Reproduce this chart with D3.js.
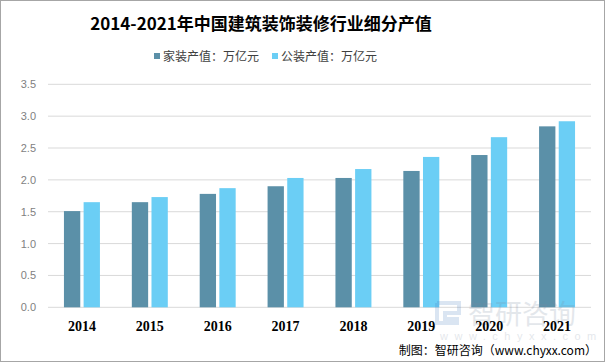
<!DOCTYPE html>
<html>
<head>
<meta charset="utf-8">
<script src="https://cdn.jsdelivr.net/npm/d3@7"></script>
<style>
  body { margin: 0; background: #fff; }
  svg { display: block; }
</style>
</head>
<body>
<svg class="chart"></svg>
<script>
const years = ["2014", "2015", "2016", "2017", "2018", "2019", "2020", "2021"];
const homeValues = [1.51, 1.65, 1.78, 1.90, 2.03, 2.14, 2.39, 2.84];
const publicValues = [1.65, 1.73, 1.87, 2.03, 2.17, 2.36, 2.67, 2.92];
const seriesNames = ["家装产值：万亿元", "公装产值：万亿元"];
const yTicks = [0, 0.5, 1, 1.5, 2, 2.5, 3, 3.5];

const width = 605, height = 362,
      margin = { top: 84, left: 48, right: 14, bottom: 55 };
const colors = ["#5B90A8", "#6BCEF5"];
const cjk = "'Noto Sans CJK SC', 'Noto Sans', sans-serif";

const svg = d3.select(".chart").attr("width", width).attr("height", height);

// outer frame
svg.append("rect")
    .attr("x", 0.5).attr("y", 0.5)
    .attr("width", width - 1).attr("height", height - 1)
    .attr("fill", "#fff").attr("stroke", "#a6a6a6");

const x = d3.scaleBand()
    .domain(years)
    .range([margin.left, width - margin.right]);

const xInner = d3.scaleBand()
    .domain([0, 1])
    .range([x.bandwidth() * 0.235, x.bandwidth() * 0.765])
    .paddingInner(0.17);

const y = d3.scaleLinear()
    .domain([0, 3.5])
    .range([height - margin.bottom + 0.3, margin.top + 0.3]);

// gridlines
svg.append("g")
    .selectAll("line")
    .data(yTicks)
    .join("line")
    .attr("x1", margin.left)
    .attr("x2", width - margin.right)
    .attr("y1", d => y(d))
    .attr("y2", d => y(d))
    .attr("stroke", "#d9d9d9")
    .attr("stroke-width", 1);

// y labels
svg.append("g")
    .selectAll("text")
    .data(yTicks)
    .join("text")
    .attr("x", 36)
    .attr("y", d => y(d) + 4)
    .attr("text-anchor", "end")
    .attr("font-size", "11px")
    .attr("font-family", "'Liberation Sans', Arial, sans-serif")
    .attr("fill", "#7f7f7f")
    .text(d => d.toFixed(1));

// bars
const series = [homeValues, publicValues];
series.forEach((vals, s) => {
    svg.append("g")
        .selectAll("rect")
        .data(vals)
        .join("rect")
        .attr("x", (d, i) => x(years[i]) + xInner(s))
        .attr("width", xInner.bandwidth())
        .attr("y", d => y(d))
        .attr("height", d => y(0) - y(d))
        .attr("fill", colors[s]);
});

// watermark (faint, sits behind the year labels like in the source image)
const wm = svg.append("g").attr("opacity", 0.2);
wm.append("path")
    .attr("d", "M437,303 h22 v10 h-14 v6 h14 M437,303 v20 h22")
    .attr("fill", "none").attr("stroke", "#4a7fc0").attr("stroke-width", 4);
wm.append("text")
    .attr("x", 468).attr("y", 324)
    .attr("font-size", "27px")
    .attr("font-family", cjk)
    .attr("fill", "#7a8aa0")
    .text("智研咨询");
wm.append("text")
    .attr("x", 440).attr("y", 340)
    .attr("font-size", "11px")
    .attr("letter-spacing", "6.5px")
    .attr("font-family", "'Liberation Sans', Arial, sans-serif")
    .attr("fill", "#7a8aa0")
    .text("www.chyxx.com");

// x labels
svg.append("g")
    .selectAll("text")
    .data(years)
    .join("text")
    .attr("x", d => x(d) + x.bandwidth() / 2)
    .attr("y", 331)
    .attr("text-anchor", "middle")
    .attr("font-size", "14px")
    .attr("font-weight", "bold")
    .attr("font-family", "'Liberation Serif', 'Times New Roman', serif")
    .attr("fill", "#000")
    .text(d => d);

// title
svg.append("text")
    .attr("x", 261)
    .attr("y", 30)
    .attr("text-anchor", "middle")
    .attr("font-size", "17px")
    .attr("font-weight", "bold")
    .attr("font-family", cjk)
    .attr("fill", "#000")
    .text("2014-2021年中国建筑装饰装修行业细分产值");

// legend
const legendX = [154, 272];
seriesNames.forEach((name, i) => {
    svg.append("rect")
        .attr("x", legendX[i]).attr("y", 53)
        .attr("width", 6).attr("height", 6)
        .attr("fill", colors[i]);
    svg.append("text")
        .attr("x", legendX[i] + 9).attr("y", 61)
        .attr("font-size", "12px")
        .attr("font-family", cjk)
        .attr("fill", "#404040")
        .text(name);
});

// source
svg.append("text")
    .attr("x", 597)
    .attr("y", 355)
    .attr("text-anchor", "end")
    .attr("font-size", "12px")
    .attr("font-family", cjk)
    .attr("fill", "#000")
    .text("制图：智研咨询（www.chyxx.com）");
</script>
</body>
</html>
